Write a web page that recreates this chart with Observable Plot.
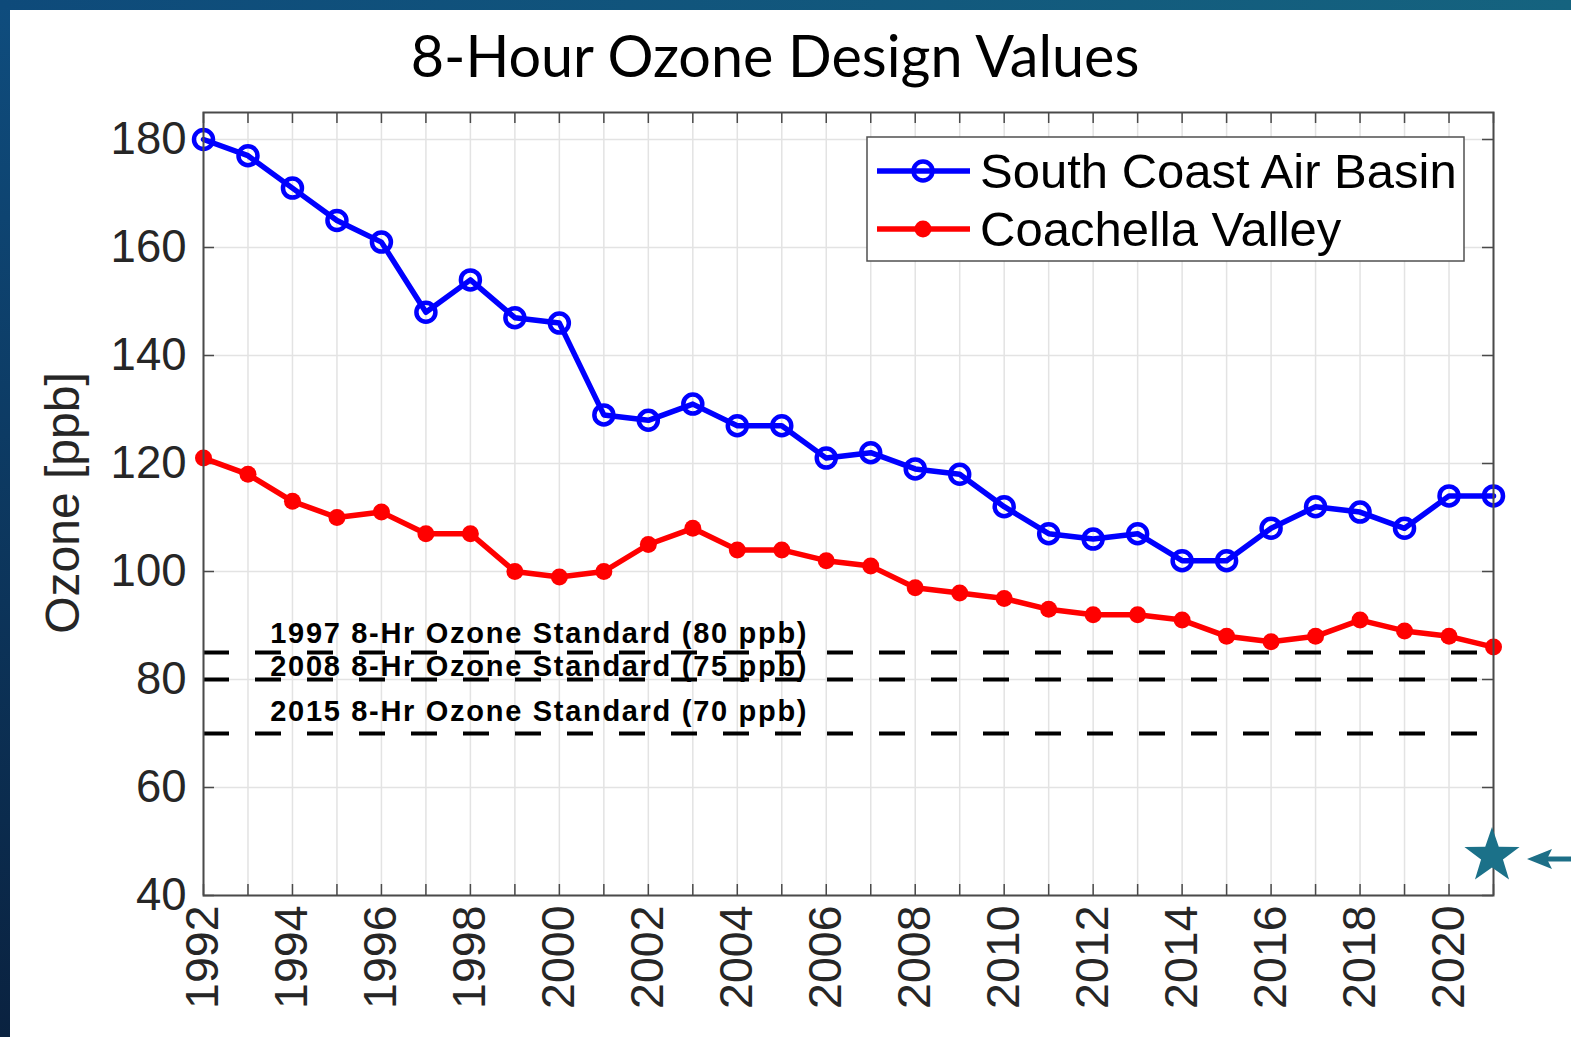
<!DOCTYPE html>
<html>
<head>
<meta charset="utf-8">
<script src="https://cdn.jsdelivr.net/npm/d3@7"></script>
<script src="https://cdn.jsdelivr.net/npm/@observablehq/plot@0.6"></script>
<style>
html, body { margin: 0; padding: 0; background: #fff; }
#page { position: relative; width: 1571px; height: 1037px; overflow: hidden;
  background: linear-gradient(to bottom, #0f4d7e, #0a2240); }
#topbar { position: absolute; left: 0; top: 0; width: 1571px; height: 10px;
  background: linear-gradient(to right, #0e4a7a, #15637f); }
#white { position: absolute; left: 10px; top: 10px; right: 0; bottom: 0; background: #fff; }
#title { position: absolute; left: 0; width: 1550px; top: 20px; text-align: center;
  font-family: Lato, "Open Sans", sans-serif; font-size: 57.5px; line-height: normal; color: #000; white-space: nowrap; }
#chart { position: absolute; left: 10px; top: 100px; }
#ylabel { position: absolute; left: 63px; top: 503px; transform: translate(-50%, -50%) rotate(-90deg);
  font-family: "Liberation Sans", Arial, sans-serif; font-size: 48px; line-height: 1; color: #262626; white-space: nowrap; }
#legend { position: absolute; left: 866px; top: 136px; }
#deco { position: absolute; left: 0; top: 0; pointer-events: none; }
</style>
</head>
<body>
<div id="page">
  <div id="topbar"></div>
  <div id="white"></div>
  <div id="title">8-Hour Ozone Design Values</div>
  <div id="chart"></div>
  <div id="ylabel">Ozone [ppb]</div>
  <div id="legend"></div>
  <svg id="deco" width="1571" height="1037"></svg>
</div>
<script>
// ---------- data ----------
const years = [1992,1993,1994,1995,1996,1997,1998,1999,2000,2001,2002,2003,2004,2005,2006,
               2007,2008,2009,2010,2011,2012,2013,2014,2015,2016,2017,2018,2019,2020,2021];
const southCoast = [180,177,171,165,161,148,154,147,146,129,128,131,127,127,121,
                    122,119,118,112,107,106,107,102,102,108,112,111,108,114,114];
const coachella  = [121,118,113,110,111,107,107,100,99,100,105,108,104,104,102,
                    101,97,96,95,93,92,92,91,88,87,88,91,89,88,86];
const seriesNames = ["South Coast Air Basin", "Coachella Valley"];
const seriesColors = ["#0000ff", "#ff0000"];
const standardValues = [85, 80, 70];
const standardLabels = ["1997 8-Hr Ozone Standard (80 ppb)",
                        "2008 8-Hr Ozone Standard (75 ppb)",
                        "2015 8-Hr Ozone Standard (70 ppb)"];
const yTicks = [40, 60, 80, 100, 120, 140, 160, 180];
const xTickLabels = [1992,1994,1996,1998,2000,2002,2004,2006,2008,2010,2012,2014,2016,2018,2020];

// ---------- tables ----------
const rows = years.map((year, i) => ({year, sc: southCoast[i], cv: coachella[i]}));
const standards = standardValues.map((value, i) => ({value, label: standardLabels[i]}));

// ---------- layout ----------
const W = 1561, H = 937;
const mL = 193, mR = 78, mT = 12, mB = 142;
const frameW = W - mL - mR;
const frameH = H - mT - mB;
const xDom = [1992, 2021], yDom = [40, 185];
const tickLen = 11;
const axisCol = "#4a4a4a";
const gridCol = "#e3e3e3";
const labelFont = {fontSize: 29, fontWeight: "bold", fill: "#000", textAnchor: "start"};

const chart = Plot.plot({
  width: W, height: H,
  marginLeft: mL, marginRight: mR, marginTop: mT, marginBottom: mB,
  style: {background: "transparent", fontFamily: "'Liberation Sans', Arial, sans-serif", color: "#262626", overflow: "visible"},
  x: {domain: xDom},
  y: {domain: yDom},
  marks: [
    Plot.ruleX(years, {stroke: gridCol, strokeWidth: 1.5}),
    Plot.ruleY(yTicks, {stroke: gridCol, strokeWidth: 1.5}),
    // inside ticks (MATLAB box style)
    Plot.ruleX(years, {y1: yDom[1], y2: yDom[0], insetTop: frameH - tickLen, stroke: axisCol, strokeWidth: 1.5}),
    Plot.ruleX(years, {y1: yDom[1], y2: yDom[0], insetBottom: frameH - tickLen, stroke: axisCol, strokeWidth: 1.5}),
    Plot.ruleY(yTicks, {x1: xDom[0], x2: xDom[1], insetRight: frameW - tickLen, stroke: axisCol, strokeWidth: 1.5}),
    Plot.ruleY(yTicks, {x1: xDom[0], x2: xDom[1], insetLeft: frameW - tickLen, stroke: axisCol, strokeWidth: 1.5}),
    // standards
    Plot.ruleY(standards, {y: "value", stroke: "#000", strokeWidth: 4, strokeDasharray: "26,26"}),
    Plot.text(standards.slice(0, 1), {x: 1993.5, y: "value", text: "label", dy: -19, ...labelFont}),
    Plot.text(standards.slice(1, 2), {x: 1993.5, y: "value", text: "label", dy: -13, ...labelFont}),
    Plot.text(standards.slice(2), {x: 1993.5, y: "value", text: "label", dy: -22, ...labelFont}),
    // series
    Plot.line(rows, {x: "year", y: "sc", stroke: seriesColors[0], strokeWidth: 5.5}),
    Plot.dot(rows, {x: "year", y: "sc", r: 9.5, stroke: seriesColors[0], strokeWidth: 4.5, fill: "none"}),
    Plot.line(rows, {x: "year", y: "cv", stroke: seriesColors[1], strokeWidth: 5.5}),
    Plot.dot(rows, {x: "year", y: "cv", r: 8.5, fill: seriesColors[1], stroke: "none"}),
    Plot.frame({stroke: axisCol, strokeWidth: 2}),
    Plot.axisY(yTicks, {anchor: "left", tickSize: 0, tickPadding: 17, fontSize: 45.5, label: null}),
    Plot.axisX(xTickLabels, {anchor: "bottom", tickSize: 0, tickPadding: 10, tickRotate: -90, fontSize: 46.5,
      label: null, tickFormat: d => String(d)})
  ]
});
document.getElementById("chart").appendChild(chart);
// standards labels: a touch wider spacing to match the reference's width
d3.select(chart).selectAll("text").filter(function() { return /Standard/.test(this.textContent); })
  .attr("letter-spacing", "1.7px");

// ---------- legend ----------
const lg = d3.select("#legend").append("svg").attr("width", 600).attr("height", 127);
lg.append("rect").attr("x", 1).attr("y", 1).attr("width", 597).attr("height", 124)
  .attr("fill", "#fff").attr("stroke", "#505050").attr("stroke-width", 1.5);
seriesNames.forEach((name, i) => {
  const cy = 35 + i * 58;
  const g = lg.append("g");
  g.append("line").attr("x1", 11).attr("x2", 104).attr("y1", cy).attr("y2", cy)
    .attr("stroke", seriesColors[i]).attr("stroke-width", 5.5);
  if (i === 0) g.append("circle").attr("cx", 57).attr("cy", cy).attr("r", 9.5)
    .attr("fill", "none").attr("stroke", seriesColors[i]).attr("stroke-width", 4.5);
  else g.append("circle").attr("cx", 57).attr("cy", cy).attr("r", 8.5).attr("fill", seriesColors[i]);
  g.append("text").attr("x", 114).attr("y", cy).attr("dy", "0.35em")
    .attr("font-family", "'Liberation Sans', Arial, sans-serif").attr("font-size", 49)
    .attr("fill", "#000").text(name);
});

// ---------- decoration: star + arrow ----------
const deco = d3.select("#deco");
const cx = 1492, cy = 856, R = 29, r = 11.5;
const pts = [];
for (let k = 0; k < 10; k++) {
  const a = -Math.PI / 2 + k * Math.PI / 5;
  const rad = k % 2 === 0 ? R : r;
  pts.push([cx + rad * Math.cos(a), cy + rad * Math.sin(a)]);
}
deco.append("polygon").attr("points", pts.map(p => p.join(",")).join(" ")).attr("fill", "#1b7189");
deco.append("line").attr("x1", 1546).attr("x2", 1571).attr("y1", 859).attr("y2", 859)
  .attr("stroke", "#1d6f87").attr("stroke-width", 5);
deco.append("polygon").attr("points", "1527,859 1552,849 1547,859 1552,869").attr("fill", "#1d6f87");
</script>
</body>
</html>
